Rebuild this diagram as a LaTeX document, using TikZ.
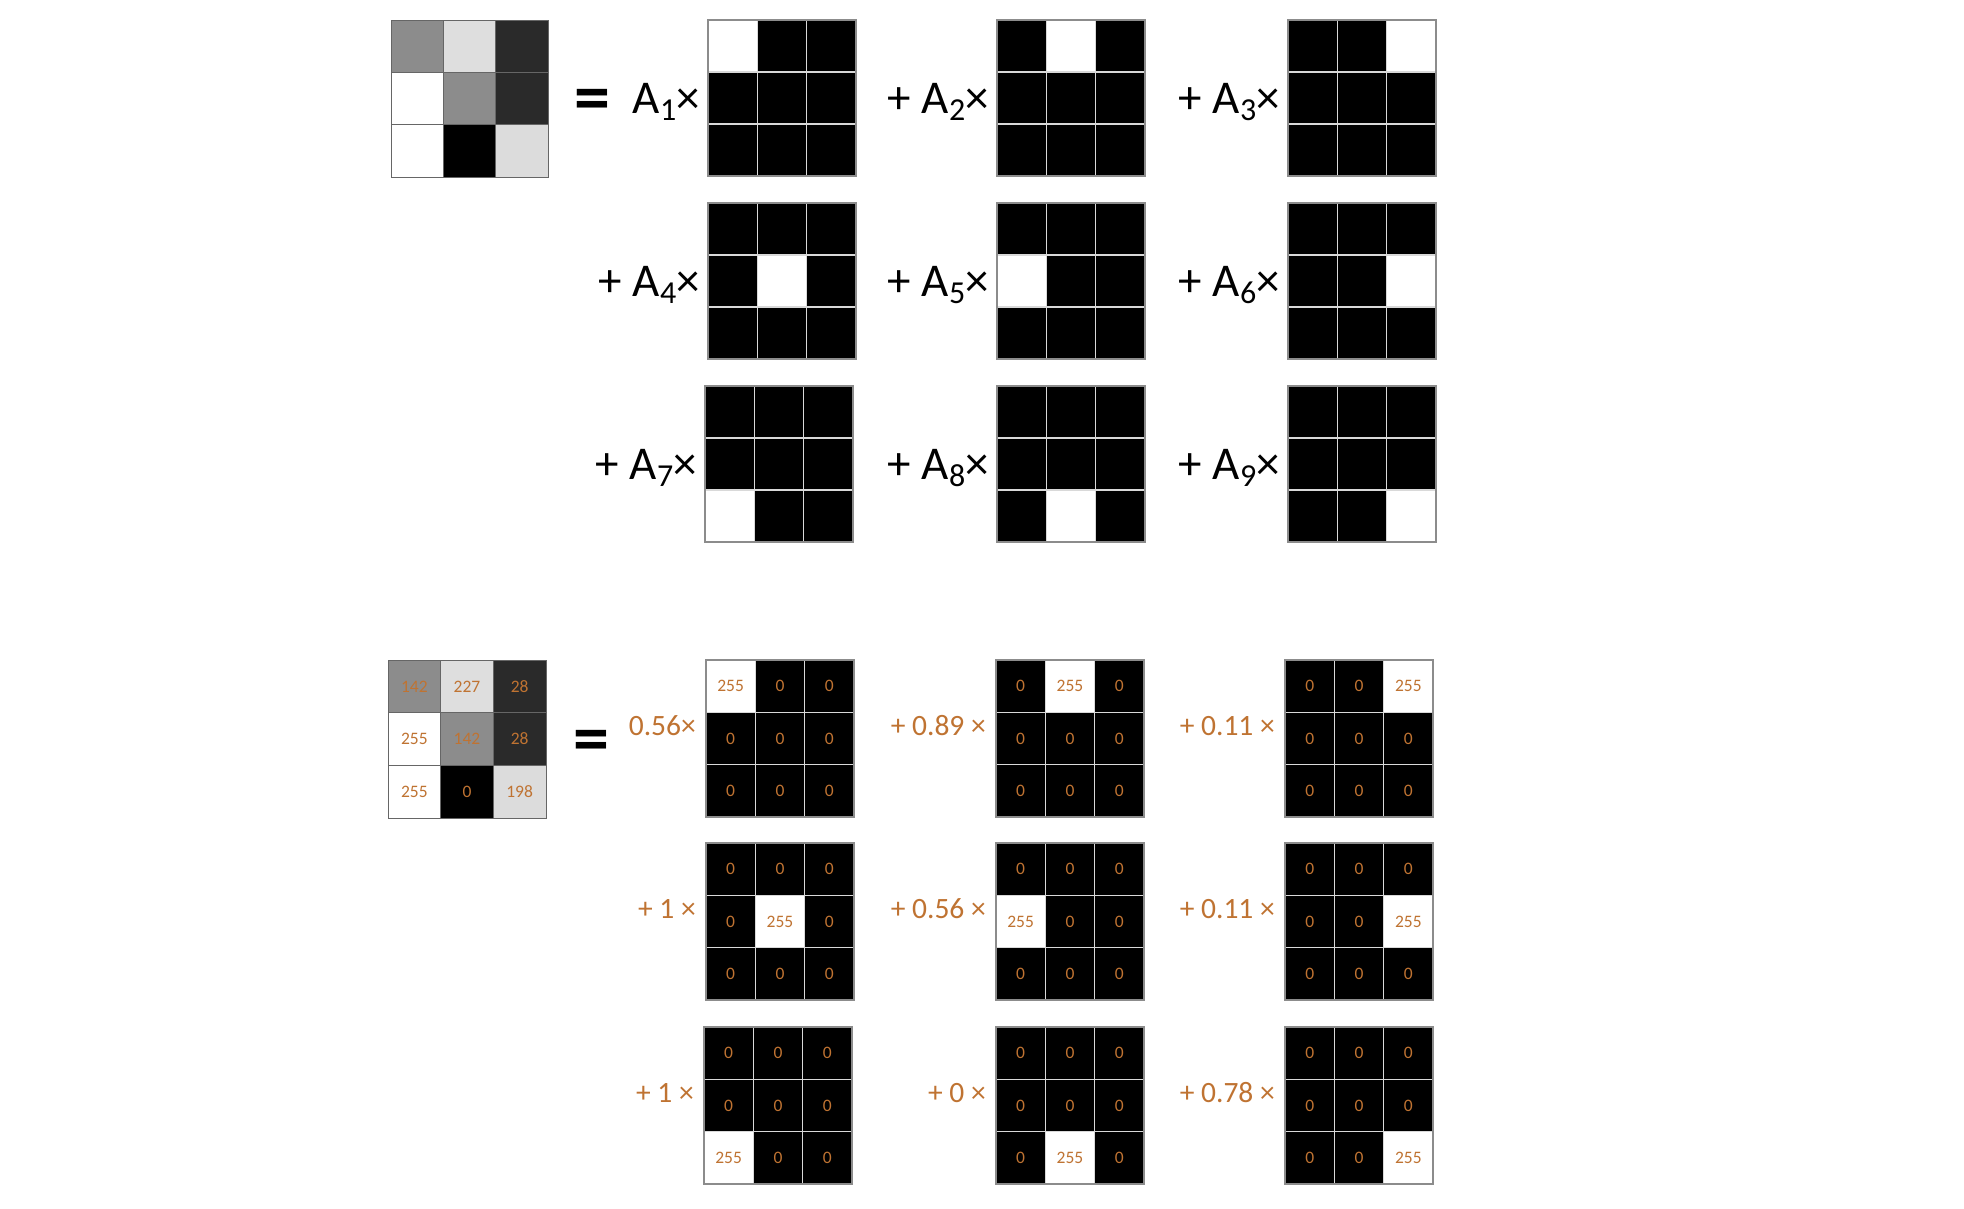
\documentclass[tikz,border=0pt]{standalone}
\usepackage{fontspec}
\setmainfont{Carlito}
\definecolor{numorange}{RGB}{191,115,50}
\newcommand{\Asub}[1]{A\raisebox{-7pt}{\fontsize{32}{32}\selectfont #1}×}

\begin{document}
\begin{tikzpicture}[x=1pt, y=-1pt,
  cellline/.style={draw=black!15, line width=1.5pt},
  gridframe/.style={draw=black!45, line width=1.4pt},
  graycell/.style={draw=black!60, line width=1pt},
  alab/.style={font=\fontsize{47}{50}\selectfont, anchor=base east, inner sep=0pt},
  wlab/.style={font=\fontsize{29.5}{32}\selectfont, text=numorange, anchor=base east, inner sep=0pt},
  cellnum/.style={font=\fontsize{17.5}{18}\selectfont, text=numorange, inner sep=0pt},
  eqsign/.style={font=\bfseries\fontsize{72}{72}\selectfont, inner sep=0pt}]
\useasboundingbox (0,0) rectangle (1964,1208);

% Grayscale image, top plain and bottom with values
\foreach \bx/\by/\bs/\withnum in {391/20/157/0, 388/660/158/1} {
  \foreach \v/\shade [count=\i from 0] in {142/140,227/222,28/42,255/255,142/140,28/42,255/255,0/0,198/220} {
    \pgfmathtruncatemacro\r{int(\i/3)}
    \pgfmathtruncatemacro\c{mod(\i,3)}
    \pgfmathsetmacro\blk{100-\shade/2.55}
    \filldraw[graycell, fill=black!\blk] ({\bx+\c*\bs/3},{\by+\r*\bs/3}) rectangle ++(\bs/3,\bs/3);
    \ifnum\withnum=1
      \node[cellnum] (g\i) at ({\bx+(\c+0.5)*\bs/3},{\by+(\r+0.5)*\bs/3}) {\v};
    \fi
  }
  \draw[graycell] (\bx,\by) rectangle ++(\bs,\bs);
}

% Equals signs
\node[eqsign] (eqtop) at (592,105) {=};
\node[eqsign] (eqbot) at (591,746) {=};

% Basis images with symbolic weights
\foreach \gx/\gy/\wr/\wc/\lbl [count=\k] in {
    708/20/1/1/{\Asub{1}}, 997/20/1/2/{+ \Asub{2}}, 1288/20/1/3/{+ \Asub{3}},
    708/203/2/2/{+ \Asub{4}}, 997/203/2/1/{+ \Asub{5}}, 1288/203/2/3/{+ \Asub{6}},
    705/386/3/1/{+ \Asub{7}}, 997/386/3/2/{+ \Asub{8}}, 1288/386/3/3/{+ \Asub{9}}} {
  \fill[black] (\gx,\gy) rectangle ++(148,156);
  \fill[white] ({\gx+(\wc-1)*148/3},{\gy+(\wr-1)*52}) rectangle ++(148/3,52);
  \foreach \i in {1,2} {
    \draw[cellline] ({\gx+\i*148/3},\gy) -- ++(0,156);
    \draw[cellline] (\gx,{\gy+\i*52}) -- ++(148,0);
  }
  \draw[gridframe] (\gx,\gy) rectangle ++(148,156);
  \node[alab] (a\k) at (\gx-8,\gy+93) {\lbl};
}

% Basis images with values and numeric weights
\foreach \gx/\gy/\wr/\wc/\lbl [count=\k] in {
    706/660/1/1/{0.56×}, 996/660/1/2/{+ 0.89 ×}, 1285/660/1/3/{+ 0.11 ×},
    706/843/2/2/{+ 1 ×}, 996/843/2/1/{+ 0.56 ×}, 1285/843/2/3/{+ 0.11 ×},
    704/1027/3/1/{+ 1 ×}, 996/1027/3/2/{+ 0 ×}, 1285/1027/3/3/{+ 0.78 ×}} {
  \fill[black] (\gx,\gy) rectangle ++(148,157);
  \fill[white] ({\gx+(\wc-1)*148/3},{\gy+(\wr-1)*157/3}) rectangle ++(148/3,157/3);
  \foreach \i in {1,2} {
    \draw[cellline] ({\gx+\i*148/3},\gy) -- ++(0,157);
    \draw[cellline] (\gx,{\gy+\i*157/3}) -- ++(148,0);
  }
  \draw[gridframe] (\gx,\gy) rectangle ++(148,157);
  \foreach \r in {1,2,3} {
    \foreach \c in {1,2,3} {
      \pgfmathtruncatemacro\val{and(\r==\wr,\c==\wc) ? 255 : 0}
      \node[cellnum] (n\k\r\c) at ({\gx+(\c-0.5)*148/3},{\gy+(\r-0.5)*157/3}) {\val};
    }
  }
  \node[wlab] (w\k) at (\gx-10,\gy+75) {\lbl};
}
\end{tikzpicture}
\end{document}
